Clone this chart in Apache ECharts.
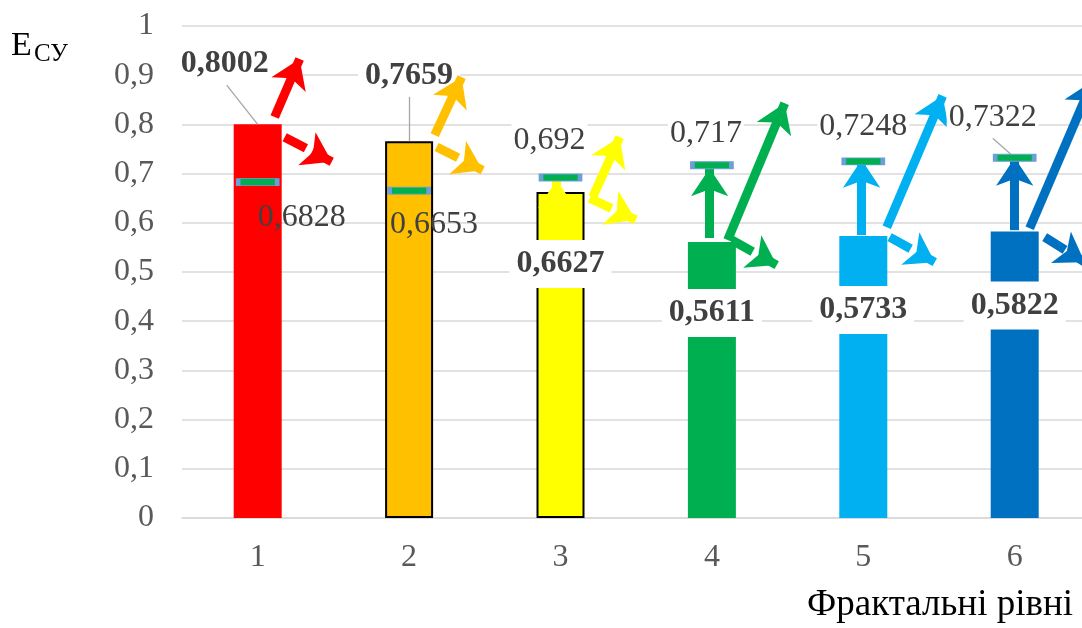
<!DOCTYPE html>
<html><head><meta charset="utf-8">
<script src="https://cdn.jsdelivr.net/npm/echarts@6/dist/echarts.min.js"></script>
<style>html,body{margin:0;padding:0;background:#fff}#c{width:1082px;height:628px}</style>
</head><body><div id="c"></div>
<script>
// ---- data ----
const categories = ['1', '2', '3', '4', '5', '6'];
const barValues = [0.8002, 0.7659, 0.6627, 0.5611, 0.5733, 0.5822];
const markerValues = [0.6828, 0.6653, 0.692, 0.717, 0.7248, 0.7322];
const yTickLabels = ['0', '0,1', '0,2', '0,3', '0,4', '0,5', '0,6', '0,7', '0,8', '0,9', '1'];
const xAxisTitle = 'Фрактальні рівні';
const yAxisTitleMain = 'E';
const yAxisTitleSub = 'СУ';

// ---- decorative annotation arrows, in data units (x: level index from 0, y: value) ----
const solidArrows = [
  [0.112, 0.815, 0.277, 0.933, 0],
  [1.169, 0.778, 1.347, 0.896, 1],
  [2.213, 0.652, 2.391, 0.774, 2],
  [1.975, 0.662, 1.975, 0.687, 2],
  [2.985, 0.569, 2.985, 0.711, 3],
  [3.104, 0.565, 3.481, 0.843, 3],
  [3.989, 0.575, 3.989, 0.728, 4],
  [4.155, 0.591, 4.524, 0.858, 4],
  [5.000, 0.585, 5.000, 0.732, 5],
  [5.099, 0.589, 5.515, 0.888, 5]
];
const dashedArrows = [
  [0.178, 0.774, 0.489, 0.724, 0],
  [1.182, 0.754, 1.486, 0.707, 1],
  [2.193, 0.650, 2.497, 0.606, 2],
  [3.131, 0.565, 3.428, 0.514, 3],
  [4.174, 0.571, 4.472, 0.520, 4],
  [5.198, 0.571, 5.462, 0.520, 5]
];
const leaderLines = [
  [-0.205, 0.880, 0.0, 0.8002],
  [1.0, 0.856, 1.0, 0.7659],
  [4.855, 0.772, 5.0, 0.7322]
];

// ---- styles ----
const barColors = ['#FF0000', '#FFC000', '#FFFF00', '#00B050', '#00B0F0', '#0070C0'];
const barBorders = [0, 2, 2, 0, 0, 0];
const barLabelOffsets = [[-33, -32], [0, -36], [0, 101], [0, 100], [0, 103], [0, 103]];
const markerLabelOffsets = [[44, 36], [25, 34], [-11, -37], [-6, -32], [0, -35], [-22, -40]];
const markerLabelBg = [false, false, true, true, true, true];
const FONT = 'Liberation Serif';
const fmt = v => String(v).replace('.', ',');

const chart = echarts.init(document.getElementById('c'), null, { renderer: 'canvas' });

const barData = barValues.map((v, i) => ({
  value: [i, v],
  itemStyle: { color: barColors[i], borderColor: '#000', borderWidth: barBorders[i] },
  label: { offset: barLabelOffsets[i] }
}));
const markerData = markerValues.map((v, i) => ({
  value: [i, v],
  label: {
    offset: markerLabelOffsets[i],
    backgroundColor: markerLabelBg[i] ? '#fff' : 'transparent'
  }
}));
const toLines = arr => arr.map(a => ({
  coords: [[a[0], a[1]], [a[2], a[3]]],
  lineStyle: { color: barColors[a[4]] }
}));

// one level = 151.4 px; the plot runs from x=182 to the right edge of the picture
const xMax = -0.5 + (1082 - 182) / 151.4;

chart.setOption({
  animation: false,
  backgroundColor: '#fff',
  grid: { left: 182, top: 26, right: 0, height: 492, containLabel: false },
  xAxis: {
    type: 'value', min: -0.5, max: xMax,
    splitLine: { show: false },
    axisLine: { lineStyle: { color: '#D9D9D9', width: 1.5 } },
    axisTick: { show: false },
    axisLabel: {
      fontFamily: FONT, fontSize: 32, color: '#595959', margin: 24,
      customValues: categories.map((c, i) => i),
      formatter: v => categories[Math.round(v)]
    }
  },
  yAxis: {
    type: 'value', min: 0, max: 1, interval: 0.1,
    axisLine: { show: false }, axisTick: { show: false },
    splitLine: { lineStyle: { color: '#D9D9D9', width: 1.5 } },
    axisLabel: {
      fontFamily: FONT, fontSize: 32, color: '#595959', margin: 28,
      formatter: v => yTickLabels[Math.round(v * 10)]
    }
  },
  graphic: [
    { type: 'text', left: 11, top: 29, style: { text: yAxisTitleMain, font: '34px "Liberation Serif"', fill: '#000' } },
    { type: 'text', left: 34, top: 42, style: { text: yAxisTitleSub, font: '25px "Liberation Serif"', fill: '#000' } },
    { type: 'text', right: 9, top: 587, style: { text: xAxisTitle, font: '37px "Liberation Serif"', fill: '#000' } }
  ],
  series: [
    {
      type: 'bar', data: barData, barWidth: 48, z: 2,
      label: {
        show: true, position: 'top', distance: 5,
        fontFamily: FONT, fontSize: 32, fontWeight: 'bold', color: '#404040',
        backgroundColor: '#fff', padding: [8, 7], lineHeight: 32,
        formatter: p => fmt(p.value[1])
      }
    },
    {
      type: 'lines', coordinateSystem: 'cartesian2d',
      data: leaderLines.map(a => ({ coords: [[a[0], a[1]], [a[2], a[3]]] })),
      lineStyle: { color: '#A6A6A6', width: 1.3, opacity: 1 }, symbol: 'none', z: 3, silent: true, clip: false
    },
    {
      type: 'lines', coordinateSystem: 'cartesian2d',
      data: toLines(solidArrows),
      lineStyle: { width: 9, opacity: 1, type: 'solid' },
      symbol: ['none', 'arrow'], symbolSize: [24, 28], z: 3, silent: true, clip: false
    },
    {
      type: 'lines', coordinateSystem: 'cartesian2d',
      data: toLines(dashedArrows),
      lineStyle: { width: 9, opacity: 1, type: [24, 7] },
      symbol: ['none', 'arrow'], symbolSize: [24, 28], z: 3, silent: true, clip: false
    },
    {
      type: 'scatter', data: markerData, symbol: 'rect', symbolSize: [39, 7], z: 5,
      itemStyle: { color: '#00B050', borderColor: '#6C9FD8', borderWidth: 2, opacity: 1 },
      label: {
        show: true, position: 'inside',
        fontFamily: FONT, fontSize: 32, color: '#404040', padding: [4, 2],
        formatter: p => fmt(p.value[1])
      }
    }
  ]
});
</script></body></html>
